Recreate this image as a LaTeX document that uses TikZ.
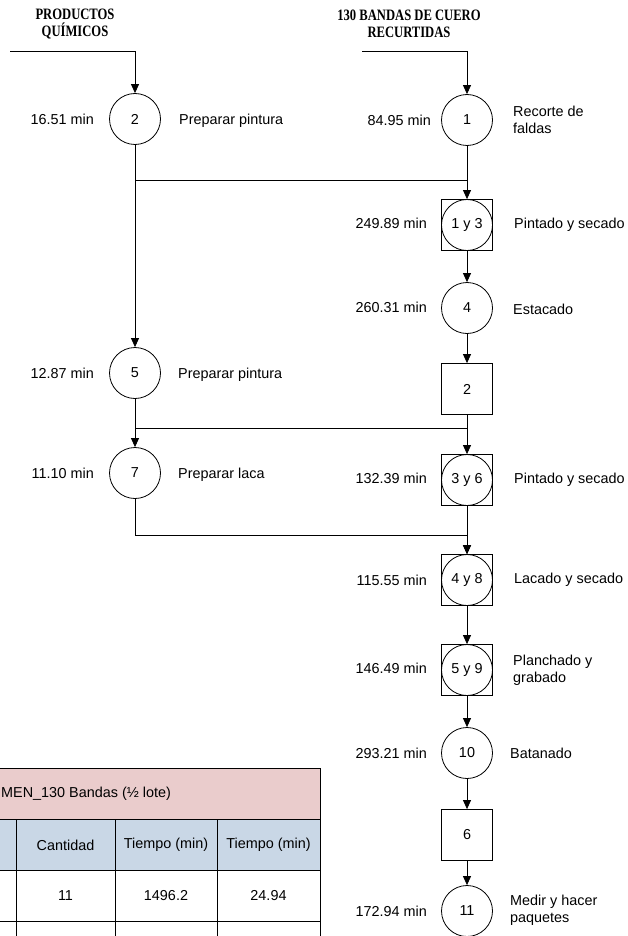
\documentclass[tikz,border=0pt]{standalone}
\usepackage{fontspec}
\usepackage{graphicx}
\setmainfont{Liberation Sans}
\newfontfamily\headfont{Liberation Serif}
\usetikzlibrary{arrows.meta}
\definecolor{hdrpink}{RGB}{234,204,204}
\definecolor{hdrblue}{RGB}{201,215,230}
\newcommand{\tallcaps}[1]{\scalebox{0.97}[1.22]{#1}}
\begin{document}
\begin{tikzpicture}[x=1pt,y=-1pt,
  every node/.style={font=\fontsize{14.4}{17}\selectfont},
  op/.style={draw,circle,minimum size=51pt,inner sep=0pt,line width=0.8pt},
  store/.style={draw,rectangle,minimum size=51pt,inner sep=0pt,line width=0.8pt},
  timelbl/.style={anchor=east,inner sep=0pt},
  desc/.style={anchor=west,align=left,inner sep=0pt},
  headtxt/.style={font=\headfont\bfseries\fontsize{13}{17}\selectfont,align=center,inner sep=0pt},
  conn/.style={line width=0.8pt},
  flow/.style={conn,-{Triangle[width=8pt,length=9pt]}},
  cell/.style={inner sep=0pt},
]
\useasboundingbox (0,0) rectangle (628,936);

% ---------- inputs ----------
\node[headtxt] (in1) at (75,24) {\tallcaps{PRODUCTOS}\\\tallcaps{QUÍMICOS}};
\node[headtxt] (in2) at (409,24) {\tallcaps{130 BANDAS DE CUERO}\\\tallcaps{RECURTIDAS}};
\coordinate (s1) at (10,51);
\coordinate (s2) at (362,51);

% ---------- left column ----------
\node[op] (c2) at (135,119) {2};
\node[timelbl] (t2) at (94,119) {16.51 min};
\node[desc] (d2) at (179,121) {Preparar pintura};

\node[op] (c5) at (135,373) {5};
\node[timelbl] (t5) at (94,373) {12.87 min};
\node[desc] (d5) at (178,375) {Preparar pintura};

\node[op] (c7) at (135,473) {7};
\node[timelbl] (t7) at (94,473) {11.10 min};
\node[desc] (d7) at (178,475) {Preparar laca};

% ---------- right column ----------
\node[op] (c1) at (467,120) {1};
\node[timelbl] (t1) at (431,120) {84.95 min};
\node[desc] (d1) at (513,120) {Recorte de\\faldas};

\node[store] (b13) at (467,225) {1 y 3};
\draw[conn] (b13.center) circle (25.5);
\node[timelbl] (t13) at (427,223) {249.89 min};
\node[desc] (d13) at (514,225) {Pintado y secado};

\node[op] (c4) at (467,308) {4};
\node[timelbl] (t4) at (427,307) {260.31 min};
\node[desc] (d4) at (513,309) {Estacado};

\node[store] (b2) at (467,389) {2};

\node[store] (b36) at (467,480) {3 y 6};
\draw[conn] (b36.center) circle (25.5);
\node[timelbl] (t36) at (427,478) {132.39 min};
\node[desc] (d36) at (514,480) {Pintado y secado};

\node[store] (b48) at (467,580) {4 y 8};
\draw[conn] (b48.center) circle (25.5);
\node[timelbl] (t48) at (427,580) {115.55 min};
\node[desc] (d48) at (514,580) {Lacado y secado};

\node[store] (b59) at (467,670) {5 y 9};
\draw[conn] (b59.center) circle (25.5);
\node[timelbl] (t59) at (427,668) {146.49 min};
\node[desc] (d59) at (513,670) {Planchado y\\grabado};

\node[op] (c10) at (467,753) {10};
\node[timelbl] (t10) at (427,753) {293.21 min};
\node[desc] (d10) at (510,753) {Batanado};

\node[store] (b6) at (467,835) {6};

\node[op] (c11) at (467,911) {11};
\node[timelbl] (t11) at (427,911) {172.94 min};
\node[desc] (d11) at (510,910) {Medir y hacer\\paquetes};

% ---------- connectors ----------
\coordinate (m1) at (467,180);
\coordinate (m2) at (467,428);
\coordinate (m3) at (467,535);

\draw[flow] (s1) -| (c2.north);
\draw[flow] (s2) -| (c1.north);
\draw[flow] (c2.south) -- (c5.north);
\draw[conn] (c2.south |- m1) -- (m1);
\draw[flow] (c1.south) -- (b13.north);
\draw[flow] (b13.south) -- (c4.north);
\draw[flow] (c4.south) -- (b2.north);
\draw[flow] (c5.south) -- (c7.north);
\draw[conn] (c5.south |- m2) -- (m2);
\draw[flow] (b2.south) -- (b36.north);
\draw[flow] (c7.south) |- (m3) -- (b48.north);
\draw[flow] (b36.south) -- (b48.north);
\draw[flow] (b48.south) -- (b59.north);
\draw[flow] (b59.south) -- (c10.north);
\draw[flow] (c10.south) -- (b6.north);
\draw[flow] (b6.south) -- (c11.north);

% ---------- summary table ----------
\fill[hdrpink] (-2,768) rectangle (320,819);
\fill[hdrblue] (-2,819) rectangle (320,870);
\draw[conn] (-2,768) -- (320,768);
\draw[conn] (-2,819) -- (320,819);
\draw[conn] (-2,870) -- (320,870);
\draw[conn] (-2,921) -- (320,921);
\draw[conn] (320,768) -- (320,940);
\foreach \cx in {16,115,217} \draw[conn] (\cx,819) -- (\cx,940);

\node[cell,anchor=west] (th) at (1,794) {MEN\_130 Bandas (½ lote)};
\node[cell] (h1) at (65.5,845) {Cantidad};
\node[cell] (h2) at (166,845) {Tiempo (min)};
\node[cell] (h3) at (268.5,845) {Tiempo (min)};
\node[cell] (v1) at (65.5,896) {11};
\node[cell] (v2) at (166,896) {1496.2};
\node[cell] (v3) at (268.5,896) {24.94};
\end{tikzpicture}
\end{document}
